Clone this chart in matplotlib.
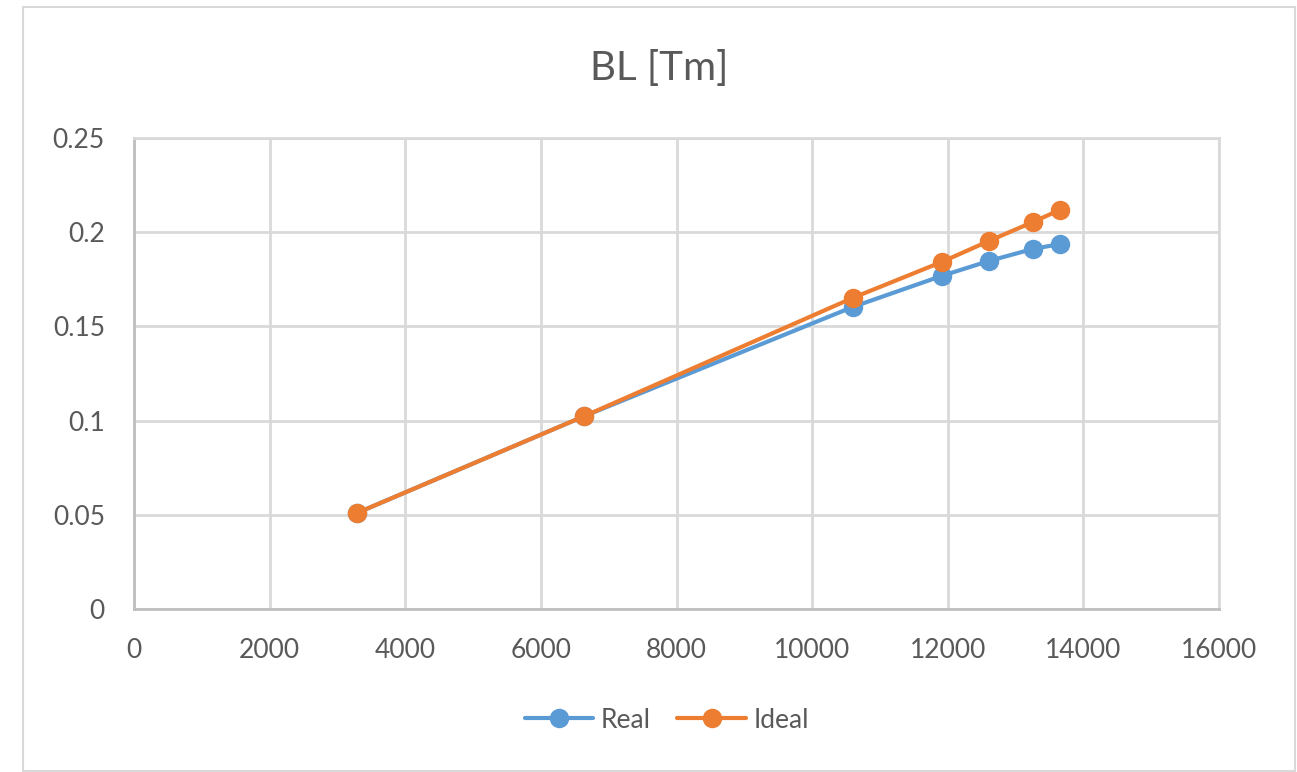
import matplotlib.pyplot as plt
from matplotlib.patches import Rectangle

plt.rcParams['font.family'] = ['Lato', 'DejaVu Sans']

# Data
x_vals = [3291, 6642, 10598, 11911, 12605, 13255, 13653]
real_bl = [0.0510, 0.1024, 0.1603, 0.1768, 0.1847, 0.1911, 0.1937]
ideal_bl = [0.0510, 0.1024, 0.1651, 0.1842, 0.1953, 0.2054, 0.2118]
x_ticks = [0, 2000, 4000, 6000, 8000, 10000, 12000, 14000, 16000]
y_ticks = [0, 0.05, 0.1, 0.15, 0.2, 0.25]
y_tick_labels = ['0', '0.05', '0.1', '0.15', '0.2', '0.25']

W, H = 1297, 772
fig = plt.figure(figsize=(W / 100, H / 100), dpi=100)

# Chart frame
fig.patches.append(Rectangle((23 / W, 1 - 771 / H), (1295 - 23) / W, (771 - 7) / H,
                             transform=fig.transFigure, fill=False,
                             edgecolor='#d9d9d9', linewidth=1.5))

ax = fig.add_axes([134 / W, 1 - 609 / H, (1219 - 134) / W, (609 - 138) / H])

grid_c = '#d9d9d9'
text_c = '#595959'
blue = '#5B9BD5'
orange = '#ED7D31'

ax.plot(x_vals, real_bl, color=blue, linewidth=3, marker='o', markersize=13,
        label='Real', solid_capstyle='round', zorder=3)
ax.plot(x_vals, ideal_bl, color=orange, linewidth=3, marker='o', markersize=13,
        label='Ideal', solid_capstyle='round', zorder=4)

ax.set_xlim(0, 16000)
ax.set_ylim(0, 0.25)
ax.set_xticks(x_ticks)
ax.set_xticklabels([str(t) for t in x_ticks])
ax.set_yticks(y_ticks)
ax.set_yticklabels(y_tick_labels)
ax.grid(True, color=grid_c, linewidth=2)
ax.set_axisbelow(True)
for s in ax.spines.values():
    s.set_color(grid_c)
    s.set_linewidth(2)
ax.spines['bottom'].set_color('#bfbfbf')
ax.spines['left'].set_color('#bfbfbf')
ax.tick_params(length=0, labelsize=19, labelcolor=text_c)
ax.tick_params(axis='x', pad=21)
ax.tick_params(axis='y', pad=21)

# Title centred on the chart frame
fig.text((23 + 1295) / 2 / W, 1 - 68 / H, 'BL [Tm]', ha='center', va='center',
         fontsize=29, color=text_c)

leg = fig.legend(loc='center', bbox_to_anchor=(667 / W, 1 - 720 / H), ncol=2,
                 frameon=False, fontsize=19, handlelength=2.6, columnspacing=1.0,
                 handletextpad=0.3)
for t in leg.get_texts():
    t.set_color(text_c)

fig.savefig('out.png', dpi=100, facecolor='white')
